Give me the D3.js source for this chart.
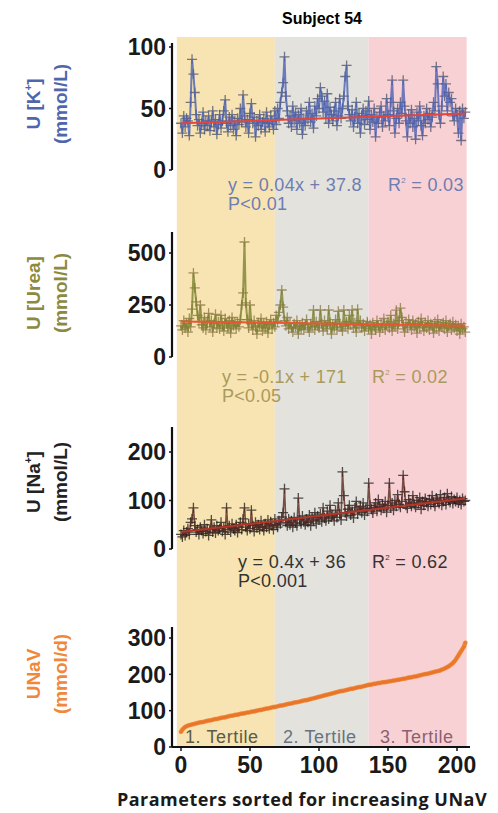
<!DOCTYPE html>
<html><head><meta charset="utf-8">
<script src="https://cdn.jsdelivr.net/npm/d3@7"></script>
<style>body{margin:0;background:#fff} svg{display:block}</style>
</head><body><svg id="c" width="498" height="813"></svg>
<script>
// ---------------- DATA ----------------
const kValues = [
38,30,44,35,42,40,28,55,90,78,
63,45,36,41,30,38,47,33,40,36,
44,32,39,48,35,41,29,37,45,34,
40,48,57,38,31,43,36,45,33,40,
28,42,37,50,39,61,44,35,41,30,
46,54,38,43,27,40,36,45,33,39,
42,31,47,38,35,44,40,33,48,37,
50,42,55,63,71,92,60,48,38,44,
35,52,40,47,33,45,38,50,29,42,
36,48,41,55,39,46,34,52,44,58,
50,67,60,47,56,42,62,38,51,45,
40,48,55,36,44,58,42,50,60,76,
85,52,45,40,49,35,43,55,38,46,
30,44,50,37,48,41,56,33,45,39,
50,27,43,38,47,52,35,44,40,58,
45,36,55,73,48,30,42,50,38,55,
46,73,52,40,27,45,38,49,35,42,
25,47,40,52,36,28,44,38,50,41,
46,35,43,55,48,84,70,45,38,52,
76,60,70,48,63,55,58,44,40,50,
45,30,48,24,50,42,47];
const ureaValues = [
150,130,175,140,160,120,185,145,230,404,
332,265,200,170,250,155,140,190,130,165,
210,145,175,120,160,205,140,170,135,200,
150,125,185,160,140,175,115,190,150,165,
135,170,145,180,250,308,553,260,180,140,
250,160,130,175,145,110,165,150,185,125,
160,140,170,115,155,180,135,165,145,200,
170,215,250,322,240,175,150,190,135,165,
140,120,160,145,175,110,150,135,165,130,
155,180,140,120,160,145,226,130,170,150,
140,226,160,125,175,150,135,226,165,110,
155,140,180,130,220,160,145,125,226,150,
170,135,200,155,226,140,165,120,230,150,
175,140,160,125,150,170,135,155,110,165,
145,130,175,150,120,160,140,185,130,155,
170,140,200,125,160,150,225,135,175,235,
190,150,120,165,140,180,155,130,175,145,
160,115,170,140,185,150,125,165,140,175,
130,160,150,115,170,140,180,125,155,145,
165,135,175,120,150,160,130,170,140,155,
125,150,110,160,135,145,120];
const naValues = [
30,25,38,28,35,42,30,55,62,85,
48,35,40,30,45,38,32,50,36,42,
28,40,60,35,45,33,48,38,42,55,
36,44,30,85,40,48,35,52,42,38,
50,34,45,55,40,62,85,45,38,52,
42,80,48,36,55,44,50,40,58,46,
38,52,45,60,42,56,48,40,62,50,
45,58,52,66,75,124,55,48,62,50,
58,45,65,54,48,105,60,52,68,56,
50,62,55,70,48,65,58,75,52,68,
60,72,56,85,64,58,78,62,90,66,
70,58,80,65,95,72,60,159,110,75,
68,82,90,70,78,64,85,98,72,80,
88,75,95,70,84,78,136,90,82,74,
86,95,78,102,88,80,92,84,98,76,
90,136,85,95,80,100,88,112,92,86,
98,152,118,90,84,102,95,88,110,92,
86,100,94,106,82,98,90,104,96,88,
102,92,110,96,88,105,100,94,112,90,
98,106,92,114,100,96,108,94,102,98,
106,95,100,92,104,98,100];
const unavValues = [
42,48,52,55,57,59,60,61,62,63,
64,65,66,67,68,68,69,70,71,72,
73,73,74,75,76,77,77,78,79,80,
81,81,82,83,84,85,86,86,87,88,
89,89,90,91,92,92,93,94,95,95,
96,97,98,98,99,100,101,102,102,103,
104,105,106,106,107,108,109,110,110,111,
112,113,114,114,115,116,117,118,119,119,
120,121,122,123,123,124,125,126,127,128,
129,129,130,131,132,133,134,135,136,137,
138,139,140,141,142,143,144,145,146,147,
148,149,150,151,152,153,154,154,155,156,
157,158,159,160,160,161,162,163,164,165,
165,166,167,168,169,170,171,171,172,173,
174,174,175,176,176,177,178,178,179,179,
180,181,181,182,183,183,184,185,185,186,
187,188,188,189,190,191,191,192,193,194,
194,195,196,197,198,199,200,201,201,202,
203,204,205,206,207,208,209,210,211,213,
214,216,218,220,222,225,228,231,235,240,
246,252,258,264,270,276,287];

const kTicks = [0, 50, 100];
const ureaTicks = [0, 250, 500];
const naTicks = [0, 100, 200];
const unavTicks = [0, 100, 200, 300];
const xTicks = [0, 50, 100, 150, 200];

// fitted line end values (at first and last index)
const kFit = [38, 46];
const ureaFit = [171, 150];
const naFit = [35, 104];

const tertileBounds = [-3, 68, 136, 207];
const tertileLabels = ["1. Tertile", "2. Tertile", "3. Tertile"];

const kText = ["y = 0.04x + 37.8", "P<0.01", "0.03"];
const ureaText = ["y = -0.1x + 171", "P<0.05", "0.02"];
const naText = ["y = 0.4x + 36", "P<0.001", "0.62"];

// ---------------- DRAW ----------------
const svg = d3.select("#c");
const font = "'Liberation Sans', Arial, sans-serif";
const x = d3.scaleLinear().domain([0, 200]).range([181, 457]);
const axisX = 172;
const bandTop = 37, bandBottom = 747;

const bandColors = ["#f7e4b2", "#e3e2dc", "#f8d1d5"];
const tertileColors = ["#5d5a48", "#6a7282", "#8e5f70"];

// bands
svg.append("g").selectAll("rect").data(d3.range(3)).join("rect")
  .attr("x", i => x(tertileBounds[i]))
  .attr("width", i => x(tertileBounds[i + 1]) - x(tertileBounds[i]))
  .attr("y", bandTop).attr("height", bandBottom - bandTop)
  .attr("fill", i => bandColors[i]);

// title
svg.append("text").attr("x", 322).attr("y", 24).attr("text-anchor", "middle")
  .attr("font-family", font).attr("font-weight", "bold").attr("font-size", 16)
  .text("Subject 54");

const panels = [
  {vals: kValues, ticks: kTicks, domain: [0, 100], range: [170, 47], axisTop: 43,
   title: ["U [K", "(mmol/L)"], sup: "+", titleColor: "#4f66ad", titleY: 104,
   lineColor: "#4b61b3", crossColor: "#4b4f68", lineW: 2, fit: kFit, fitColor: "#e0473c",
   text: kText, textColor: "#6f7db3", tx: 228, ty: 191, rx: 388},
  {vals: ureaValues, ticks: ureaTicks, domain: [0, 500], range: [357, 253], axisTop: 232,
   title: ["U [Urea]", "(mmol/L)"], sup: null, titleColor: "#8c8a3e", titleY: 293,
   lineColor: "#7c8232", crossColor: "#8a7440", lineW: 2, fit: ureaFit, fitColor: "#ec5530",
   text: ureaText, textColor: "#a99a5c", tx: 222, ty: 383, rx: 372},
  {vals: naValues, ticks: naTicks, domain: [0, 200], range: [549, 452], axisTop: 427,
   title: ["U [Na", "(mmol/L)"], sup: "+", titleColor: "#222", titleY: 482,
   lineColor: "#5a2a22", crossColor: "#1a1a1a", lineW: 1.6, fit: naFit, fitColor: "#b2362a",
   text: naText, textColor: "#333", tx: 238, ty: 568, rx: 372},
];

function yAxisDraw(g, y, ticks, top, bottom) {
  g.append("line").attr("x1", axisX).attr("x2", axisX).attr("y1", top).attr("y2", bottom)
    .attr("stroke", "#111").attr("stroke-width", 2.2);
  g.selectAll("line.t").data(ticks).join("line").attr("class", "t")
    .attr("x1", axisX - 3).attr("x2", axisX).attr("y1", d => y(d)).attr("y2", d => y(d))
    .attr("stroke", "#111").attr("stroke-width", 1.5);
  g.selectAll("text.t").data(ticks).join("text").attr("class", "t")
    .attr("x", axisX - 6).attr("y", d => y(d)).attr("dy", "0.36em")
    .attr("text-anchor", "end").attr("font-family", font).attr("font-weight", "bold")
    .attr("font-size", 23).attr("fill", "#1a1a1a").text(d => d);
}

function yTitle(lines, sup, color, cy) {
  const g = svg.append("g").attr("fill", color).attr("font-family", font)
    .attr("font-weight", "bold").attr("font-size", 19);
  const t1 = g.append("text").attr("transform", `translate(33,${cy}) rotate(-90)`)
    .attr("text-anchor", "middle").attr("dy", "0.35em");
  t1.append("tspan").text(lines[0]);
  if (sup) {
    t1.append("tspan").attr("font-size", 10).attr("dy", -8).text(sup);
    t1.append("tspan").attr("dy", 8).text("]");
  }
  g.append("text").attr("transform", `translate(60,${cy}) rotate(-90)`)
    .attr("text-anchor", "middle").attr("dy", "0.35em").text(lines[1]);
}

function cross(size) {
  return `M${-size},0H${size}M0,${-size}V${size}`;
}

panels.forEach(p => {
  const y = d3.scaleLinear().domain(p.domain).range(p.range);
  const g = svg.append("g");
  const idx = d3.range(p.vals.length);
  // crosses
  g.append("g").selectAll("path").data(idx).join("path")
    .attr("transform", i => `translate(${x(i)},${y(p.vals[i])})`)
    .attr("d", cross(5))
    .attr("stroke", p.crossColor).attr("stroke-width", 1.3).attr("opacity", 0.75).attr("fill", "none");
  // connecting line
  g.append("path").datum(idx)
    .attr("d", d3.line().x(i => x(i)).y(i => y(p.vals[i])))
    .attr("fill", "none").attr("stroke", p.lineColor).attr("stroke-width", p.lineW).attr("opacity", 0.8);
  // fit line
  const last = p.vals.length - 1;
  g.append("path").datum([[0, p.fit[0]], [last, p.fit[1]]])
    .attr("d", d3.line().x(d => x(d[0])).y(d => y(d[1])))
    .attr("stroke", p.fitColor).attr("stroke-width", 2).attr("fill", "none");
  yAxisDraw(svg.append("g"), y, p.ticks, p.axisTop, y(0));
  yTitle(p.title, p.sup, p.titleColor, p.titleY);
  // annotation
  const a = svg.append("g").attr("font-family", font).attr("font-size", 18)
    .attr("letter-spacing", 0.3).attr("fill", p.textColor);
  a.append("text").attr("x", p.tx).attr("y", p.ty).text(p.text[0]);
  a.append("text").attr("x", p.tx).attr("y", p.ty + 19).text(p.text[1]);
  const r = a.append("text").attr("x", p.rx).attr("y", p.ty);
  r.append("tspan").text("R");
  r.append("tspan").attr("font-size", 8).attr("dy", -8).text("2");
  r.append("tspan").attr("dy", 8).text(" = " + p.text[2]);
});

// UNaV panel
{
  const y = d3.scaleLinear().domain([0, 300]).range([747, 638]);
  const idx = d3.range(unavValues.length);
  svg.append("path").datum(idx)
    .attr("d", d3.line().x(i => x(i)).y(i => y(unavValues[i])))
    .attr("fill", "none").attr("stroke", "#f08a3c").attr("stroke-width", 4.5).attr("stroke-linecap", "round");
  svg.append("g").selectAll("circle").data(idx).join("circle")
    .attr("cx", i => x(i)).attr("cy", i => y(unavValues[i])).attr("r", 1.6)
    .attr("fill", "#e8742a").attr("opacity", 0.7);
  const g = svg.append("g");
  yAxisDraw(g, y, unavTicks, 627, 747);
  yTitle(["UNaV", "(mmol/d)"], null, "#f0873a", 674);
  // tertile labels
  svg.append("g").selectAll("text").data(tertileLabels).join("text")
    .attr("x", (d, i) => [185, 283, 380][i]).attr("y", 743)
    .attr("font-family", font).attr("font-size", 18).attr("letter-spacing", 0.6)
    .attr("fill", (d, i) => tertileColors[i])
    .text(d => d);
  // x axis
  svg.append("line").attr("x1", axisX).attr("x2", 470).attr("y1", 747).attr("y2", 747)
    .attr("stroke", "#111").attr("stroke-width", 2.2);
  svg.append("g").selectAll("line").data(xTicks).join("line")
    .attr("x1", d => x(d)).attr("x2", d => x(d)).attr("y1", 747).attr("y2", 751)
    .attr("stroke", "#111").attr("stroke-width", 1.5);
  svg.append("g").selectAll("text").data(xTicks).join("text")
    .attr("x", d => x(d)).attr("y", 773).attr("text-anchor", "middle")
    .attr("font-family", font).attr("font-weight", "bold").attr("font-size", 23).attr("fill", "#1a1a1a")
    .text(d => d);
  svg.append("text").attr("x", 302).attr("y", 806).attr("text-anchor", "middle")
    .attr("font-family", "'Open Sans', sans-serif").attr("font-weight", "bold").attr("font-size", 18)
    .attr("letter-spacing", 0.5)
    .attr("fill", "#1a1a1a").text("Parameters sorted for increasing UNaV");
}
</script></body></html>
